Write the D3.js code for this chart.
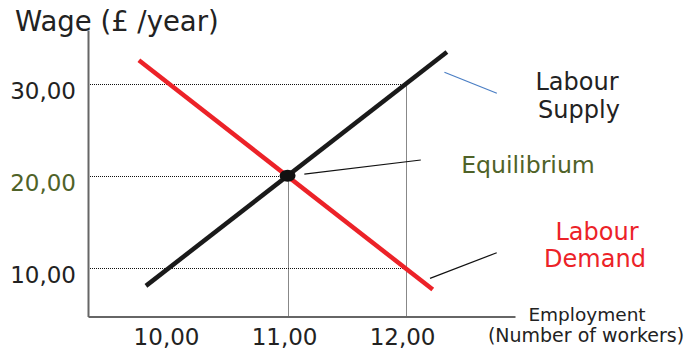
<!DOCTYPE html>
<html><head><meta charset="utf-8">
<script src="https://cdn.jsdelivr.net/npm/d3@7"></script>
<style>body{margin:0;background:#fff}svg{display:block}text{font-family:"DejaVu Sans",Verdana,sans-serif}</style>
</head><body>
<svg id="c" width="686" height="350"></svg>
<script>
// ---- data ----
const supplyX = [9.8, 12.35];
const supplyY = [8, 33.5];
const demandX = [9.74, 12.23];
const demandY = [32.6, 7.6];
const equilibriumX = [11];
const equilibriumY = [20];
const xTicks = [10, 11, 12];
const xTickLabels = ["10,00", "11,00", "12,00"];
const yTicks = [10, 20, 30];
const yTickLabels = ["10,00", "20,00", "30,00"];
// guide lines: horizontal (wage level, extends to employment) / vertical (employment, up to wage)
const hGuideY = [30, 20, 10];
const hGuideToX = [12, 11, 12];
const vGuideX = [11, 12];
const vGuideToY = [20, 30];

const svg = d3.select("#c");
const x = d3.scaleLinear().domain([9.309, 12.927]).range([88, 515]);
const y = d3.scaleLinear().domain([4.66, 35.89]).range([316.5, 30]);
const crisp = v => Math.round(v) + 0.5;

// guides
svg.selectAll(".hg").data(hGuideY).join("line")
  .attr("x1", x(x.domain()[0]) + 2).attr("x2", (d,i)=>x(hGuideToX[i]))
  .attr("y1", d=>crisp(y(d))).attr("y2", d=>crisp(y(d)))
  .attr("stroke", "#111").attr("stroke-width", 1).attr("stroke-dasharray", "1,1");
svg.selectAll(".vg").data(vGuideX).join("line")
  .attr("x1", d=>crisp(x(d))).attr("x2", d=>crisp(x(d)))
  .attr("y1", y(y.domain()[0])).attr("y2", (d,i)=>y(vGuideToY[i]))
  .attr("stroke", "#111").attr("stroke-width", 1).attr("stroke-dasharray", "1,1");

// axes
const yAxis = d3.axisLeft(y).tickValues([]).tickSizeOuter(0);
const xAxis = d3.axisBottom(x).tickValues([]).tickSizeOuter(0);
const gy = svg.append("g").attr("transform", `translate(${x(x.domain()[0])},0)`).call(yAxis);
const gx = svg.append("g").attr("transform", `translate(0,${y(y.domain()[0])})`).call(xAxis);
[gx, gy].forEach(g => g.select(".domain").attr("stroke", "#666").attr("stroke-width", 2));

// tick labels
svg.selectAll(".xl").data(xTicks).join("text")
  .attr("x", d=>x(d) - 3).attr("y", 345).attr("text-anchor", "middle")
  .attr("font-size", 23).attr("fill", "#222").text((d,i)=>xTickLabels[i]);
svg.selectAll(".yl").data(yTicks).join("text")
  .attr("x", 76).attr("y", d=>y(d) + 15).attr("text-anchor", "end")
  .attr("font-size", 23).attr("fill", d=>d===20 ? "#4f6228" : "#222")
  .text((d,i)=>yTickLabels[i]);

// curves
const line = d3.line().x(d=>x(d[0])).y(d=>y(d[1]));
svg.append("path").datum(demandX.map((v,i)=>[v, demandY[i]]))
  .attr("d", line).attr("stroke", "#ec2228").attr("stroke-width", 4.5).attr("fill", "none");
svg.append("path").datum(supplyX.map((v,i)=>[v, supplyY[i]]))
  .attr("d", line).attr("stroke", "#1a1a1a").attr("stroke-width", 4.5).attr("fill", "none");

// equilibrium point
svg.selectAll(".eq").data(equilibriumX).join("ellipse")
  .attr("cx", d=>x(d)).attr("cy", (d,i)=>y(equilibriumY[i]))
  .attr("rx", 8).attr("ry", 6).attr("fill", "#111");

// pointers (in data units)
const pointers = [
  {a:[12.329, 31.28], b:[12.773, 28.99], c:"#4a7ec4"},
  {a:[11.142, 20.19], b:[12.129, 21.72], c:"#111"},
  {a:[12.207, 8.82], b:[12.772, 11.61], c:"#111"}
];
svg.selectAll(".ptr").data(pointers).join("line")
  .attr("x1", d=>x(d.a[0])).attr("y1", d=>y(d.a[1]))
  .attr("x2", d=>x(d.b[0])).attr("y2", d=>y(d.b[1]))
  .attr("stroke", d=>d.c).attr("stroke-width", 1.2);

// texts
function txt(s, tx, ty, size, fill, anchor) {
  svg.append("text").attr("x", tx).attr("y", ty).attr("font-size", size)
    .attr("fill", fill).attr("text-anchor", anchor || "start").text(s);
}
txt("Wage (£ /year)", 15, 31, 27.5, "#222");
txt("Labour", 577, 90, 24, "#222", "middle");
txt("Supply", 579, 118, 24, "#222", "middle");
txt("Equilibrium", 528, 173, 23.6, "#4f6228", "middle");
txt("Labour", 597, 240, 24, "#ec2228", "middle");
txt("Demand", 595, 267, 24, "#ec2228", "middle");
txt("Employment", 587, 321, 18.5, "#222", "middle");
txt("(Number of workers)", 586, 342, 19, "#222", "middle");
</script>
</body></html>
